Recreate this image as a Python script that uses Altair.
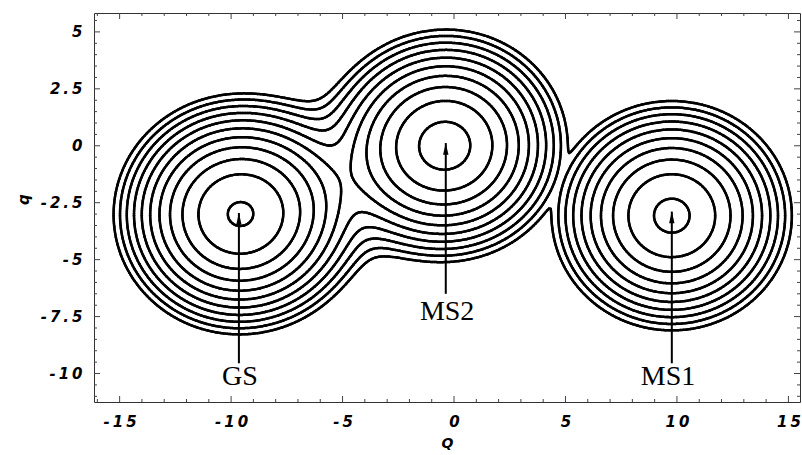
import numpy as np
import pandas as pd
import altair as alt

alt.data_transformers.disable_max_rows()

# ---- potential model: three coupled harmonic wells ----
state_names = ["GS", "MS2", "MS1"]
state_Q0 = [-9.68, -0.30, 9.77]      # well centres (Q)
state_q0 = [-3.03, 0.04, -3.07]      # well centres (q)
state_E0 = [0.0, 0.72, 0.55]         # well minima (in contour-step units)
state_wQ = [1.775, 1.775, 1.775]     # width along Q
state_wq = [1.66, 1.66, 1.66]        # width along q
coupling_pairs = [(0, 1), (1, 2)]
coupling_values = [3.35, 0.3]
contour_levels = [-0.25, 0.75, 1.75, 2.75, 3.75, 4.75, 5.75, 6.75, 7.75, 8.75, 9.75]

# ---- annotations ----
label_text = ["GS", "MS2", "MS1"]
label_Q = [-9.6, -0.31, 9.6]
label_q = [-10.15, -7.3, -10.15]
arrow_Q = [-9.65, -0.37, 9.77]
arrow_base_q = [-9.55, -6.5, -9.55]
arrow_tip_q = [-2.95, 0.12, -2.89]

# ---- axes ----
Q_domain = [-16.15, 15.52]
q_domain = [-11.25, 5.83]
x_major = [-15, -10, -5, 0, 5, 10, 15]
x_minor = [-16, -14, -13, -12, -11, -9, -8, -7, -6, -4, -3, -2, -1,
           1, 2, 3, 4, 6, 7, 8, 9, 11, 12, 13, 14]
y_major = [-10, -7.5, -5, -2.5, 0, 2.5, 5]
y_minor = [-11, -10.5, -9.5, -9, -8.5, -8, -7, -6.5, -6, -5.5, -4.5, -4, -3.5, -3,
           -2, -1.5, -1, -0.5, 0.5, 1, 1.5, 2, 3, 3.5, 4, 4.5, 5.5]

# ---- lowest adiabatic surface on a grid ----
Qg = np.linspace(Q_domain[0], Q_domain[1], 420)
qg = np.linspace(q_domain[0], q_domain[1], 230)
QQ, qq = np.meshgrid(Qg, qg)
n = len(state_names)
Hm = np.zeros(QQ.shape + (n, n))
for i in range(n):
    Hm[..., i, i] = (state_E0[i] + ((QQ - state_Q0[i]) / state_wQ[i]) ** 2
                     + ((qq - state_q0[i]) / state_wq[i]) ** 2)
for (i, j), cval in zip(coupling_pairs, coupling_values):
    Hm[..., i, j] = cval
    Hm[..., j, i] = cval
V = np.linalg.eigvalsh(Hm)[..., 0]


def march(V, X, Y, c):
    s = V > c
    v00, v01, v10, v11 = V[:-1, :-1], V[:-1, 1:], V[1:, :-1], V[1:, 1:]
    s00, s01, s10, s11 = s[:-1, :-1], s[:-1, 1:], s[1:, :-1], s[1:, 1:]
    shape = v00.shape
    x0 = X[None, :-1]; x1 = X[None, 1:]
    y0 = Y[:-1, None]; y1 = Y[1:, None]
    with np.errstate(divide="ignore", invalid="ignore"):
        tb = (c - v00) / (v01 - v00)
        tt = (c - v10) / (v11 - v10)
        tl = (c - v00) / (v10 - v00)
        tr = (c - v01) / (v11 - v01)
    bx = x0 + tb * (x1 - x0); by = np.broadcast_to(y0, shape)
    tx = x0 + tt * (x1 - x0); ty = np.broadcast_to(y1, shape)
    lx = np.broadcast_to(x0, shape); ly = y0 + tl * (y1 - y0)
    rx = np.broadcast_to(x1, shape); ry = y0 + tr * (y1 - y0)
    mb = s00 != s01; mt = s10 != s11; ml = s00 != s10; mr = s01 != s11
    edges = [(mb, bx, by), (mr, rx, ry), (mt, tx, ty), (ml, lx, ly)]
    cnt = mb.astype(int) + mr + mt + ml
    segs = []
    two = cnt == 2
    for a in range(4):
        for b in range(a + 1, 4):
            m = two & edges[a][0] & edges[b][0]
            segs.append((edges[a][1][m], edges[a][2][m], edges[b][1][m], edges[b][2][m]))
    four = cnt == 4
    if four.any():
        center = (v00 + v01 + v10 + v11) / 4 > c
        same = four & (center == s00)
        diff = four & (center != s00)
        for m, pairs in [(same, [(0, 1), (2, 3)]), (diff, [(0, 3), (1, 2)])]:
            for a, b in pairs:
                segs.append((edges[a][1][m], edges[a][2][m], edges[b][1][m], edges[b][2][m]))
    return [np.concatenate([sg[k] for sg in segs]) for k in range(4)]


parts = []
for c in contour_levels:
    sx, sy, sx2, sy2 = march(V, Qg, qg, c)
    parts.append(pd.DataFrame({"x": sx, "y": sy, "x2": sx2, "y2": sy2}))
seg_df = pd.concat(parts).round(3)

W, H = 706, 389
xs = alt.Scale(domain=Q_domain, nice=False, zero=False)
ys = alt.Scale(domain=q_domain, nice=False, zero=False)

lab_font = "DejaVu Sans"
label_expr = "join(split('' + datum.value, ''), '\u2009')"

contours = alt.Chart(seg_df).mark_rule(
    color="black", strokeWidth=2.5, strokeCap="round"
).encode(
    x=alt.X("x:Q", scale=xs, axis=alt.Axis(
        values=x_major, labelExpr=label_expr, ticks=False, domain=False, grid=False,
        labelFont=lab_font, labelFontWeight="bold", labelFontStyle="italic",
        labelFontSize=15, labelColor="black", labelPadding=12, labelFlush=False,
        title="Q", titleFont=lab_font, titleFontWeight="bold", titleFontStyle="italic",
        titleFontSize=14, titleColor="black", titlePadding=7)),
    y=alt.Y("y:Q", scale=ys, axis=alt.Axis(
        values=y_major, labelExpr=label_expr, ticks=False, domain=False, grid=False,
        labelFont=lab_font, labelFontWeight="bold", labelFontStyle="italic",
        labelFontSize=15, labelColor="black", labelPadding=12, labelFlush=False,
        title="q", titleFont=lab_font, titleFontWeight="bold", titleFontStyle="italic",
        titleFontSize=15, titleColor="black", titleX=-71, titleY=186,
        titleBaseline="middle")),
    x2="x2:Q", y2="y2:Q",
)

ann = pd.DataFrame({"t": label_text, "lx": label_Q, "ly": label_q, "ax": arrow_Q,
                    "ab": arrow_base_q, "at": arrow_tip_q})

texts = alt.Chart(ann).mark_text(
    font="Liberation Serif", fontSize=28, color="black", baseline="middle", align="center"
).encode(x=alt.X("lx:Q", scale=xs), y=alt.Y("ly:Q", scale=ys), text="t:N")

shafts = alt.Chart(ann).mark_rule(color="black", strokeWidth=2).encode(
    x=alt.X("ax:Q", scale=xs), y=alt.Y("ab:Q", scale=ys), y2="at:Q")

heads = alt.Chart(ann).mark_point(
    shape="M0,0L0.46,2L-0.46,2Z", size=137, filled=True, color="black", opacity=1, strokeWidth=0
).encode(x=alt.X("ax:Q", scale=xs), y=alt.Y("at:Q", scale=ys))

xt = pd.DataFrame({"v": x_major + x_minor, "len": [6] * len(x_major) + [3] * len(x_minor)})
yt = pd.DataFrame({"v": y_major + y_minor, "len": [6] * len(y_major) + [3] * len(y_minor)})
tick_col = "#444"

def xticks(bottom):
    base = alt.Chart(xt).transform_calculate(
        p0=str(H) if bottom else "0",
        p1=(f"{H} - datum.len") if bottom else "datum.len")
    return base.mark_rule(color=tick_col, strokeWidth=1).encode(
        x=alt.X("v:Q", scale=xs), y=alt.Y("p0:Q", scale=None), y2="p1:Q")

def yticks(left):
    base = alt.Chart(yt).transform_calculate(
        p0="0" if left else str(W),
        p1="datum.len" if left else f"{W} - datum.len")
    return base.mark_rule(color=tick_col, strokeWidth=1).encode(
        y=alt.Y("v:Q", scale=ys), x=alt.X("p0:Q", scale=None), x2="p1:Q")

chart = alt.layer(
    contours, shafts, heads, texts, xticks(True), xticks(False), yticks(True), yticks(False)
).properties(
    width=W, height=H,
    padding={"left": 94, "top": 13, "right": 2, "bottom": 53},
    autosize=alt.AutoSizeParams(type="none"),
    background="white",
).configure_view(stroke="#333", strokeWidth=1)

chart.save("out.html", embed_options={"renderer": "svg", "actions": False})
